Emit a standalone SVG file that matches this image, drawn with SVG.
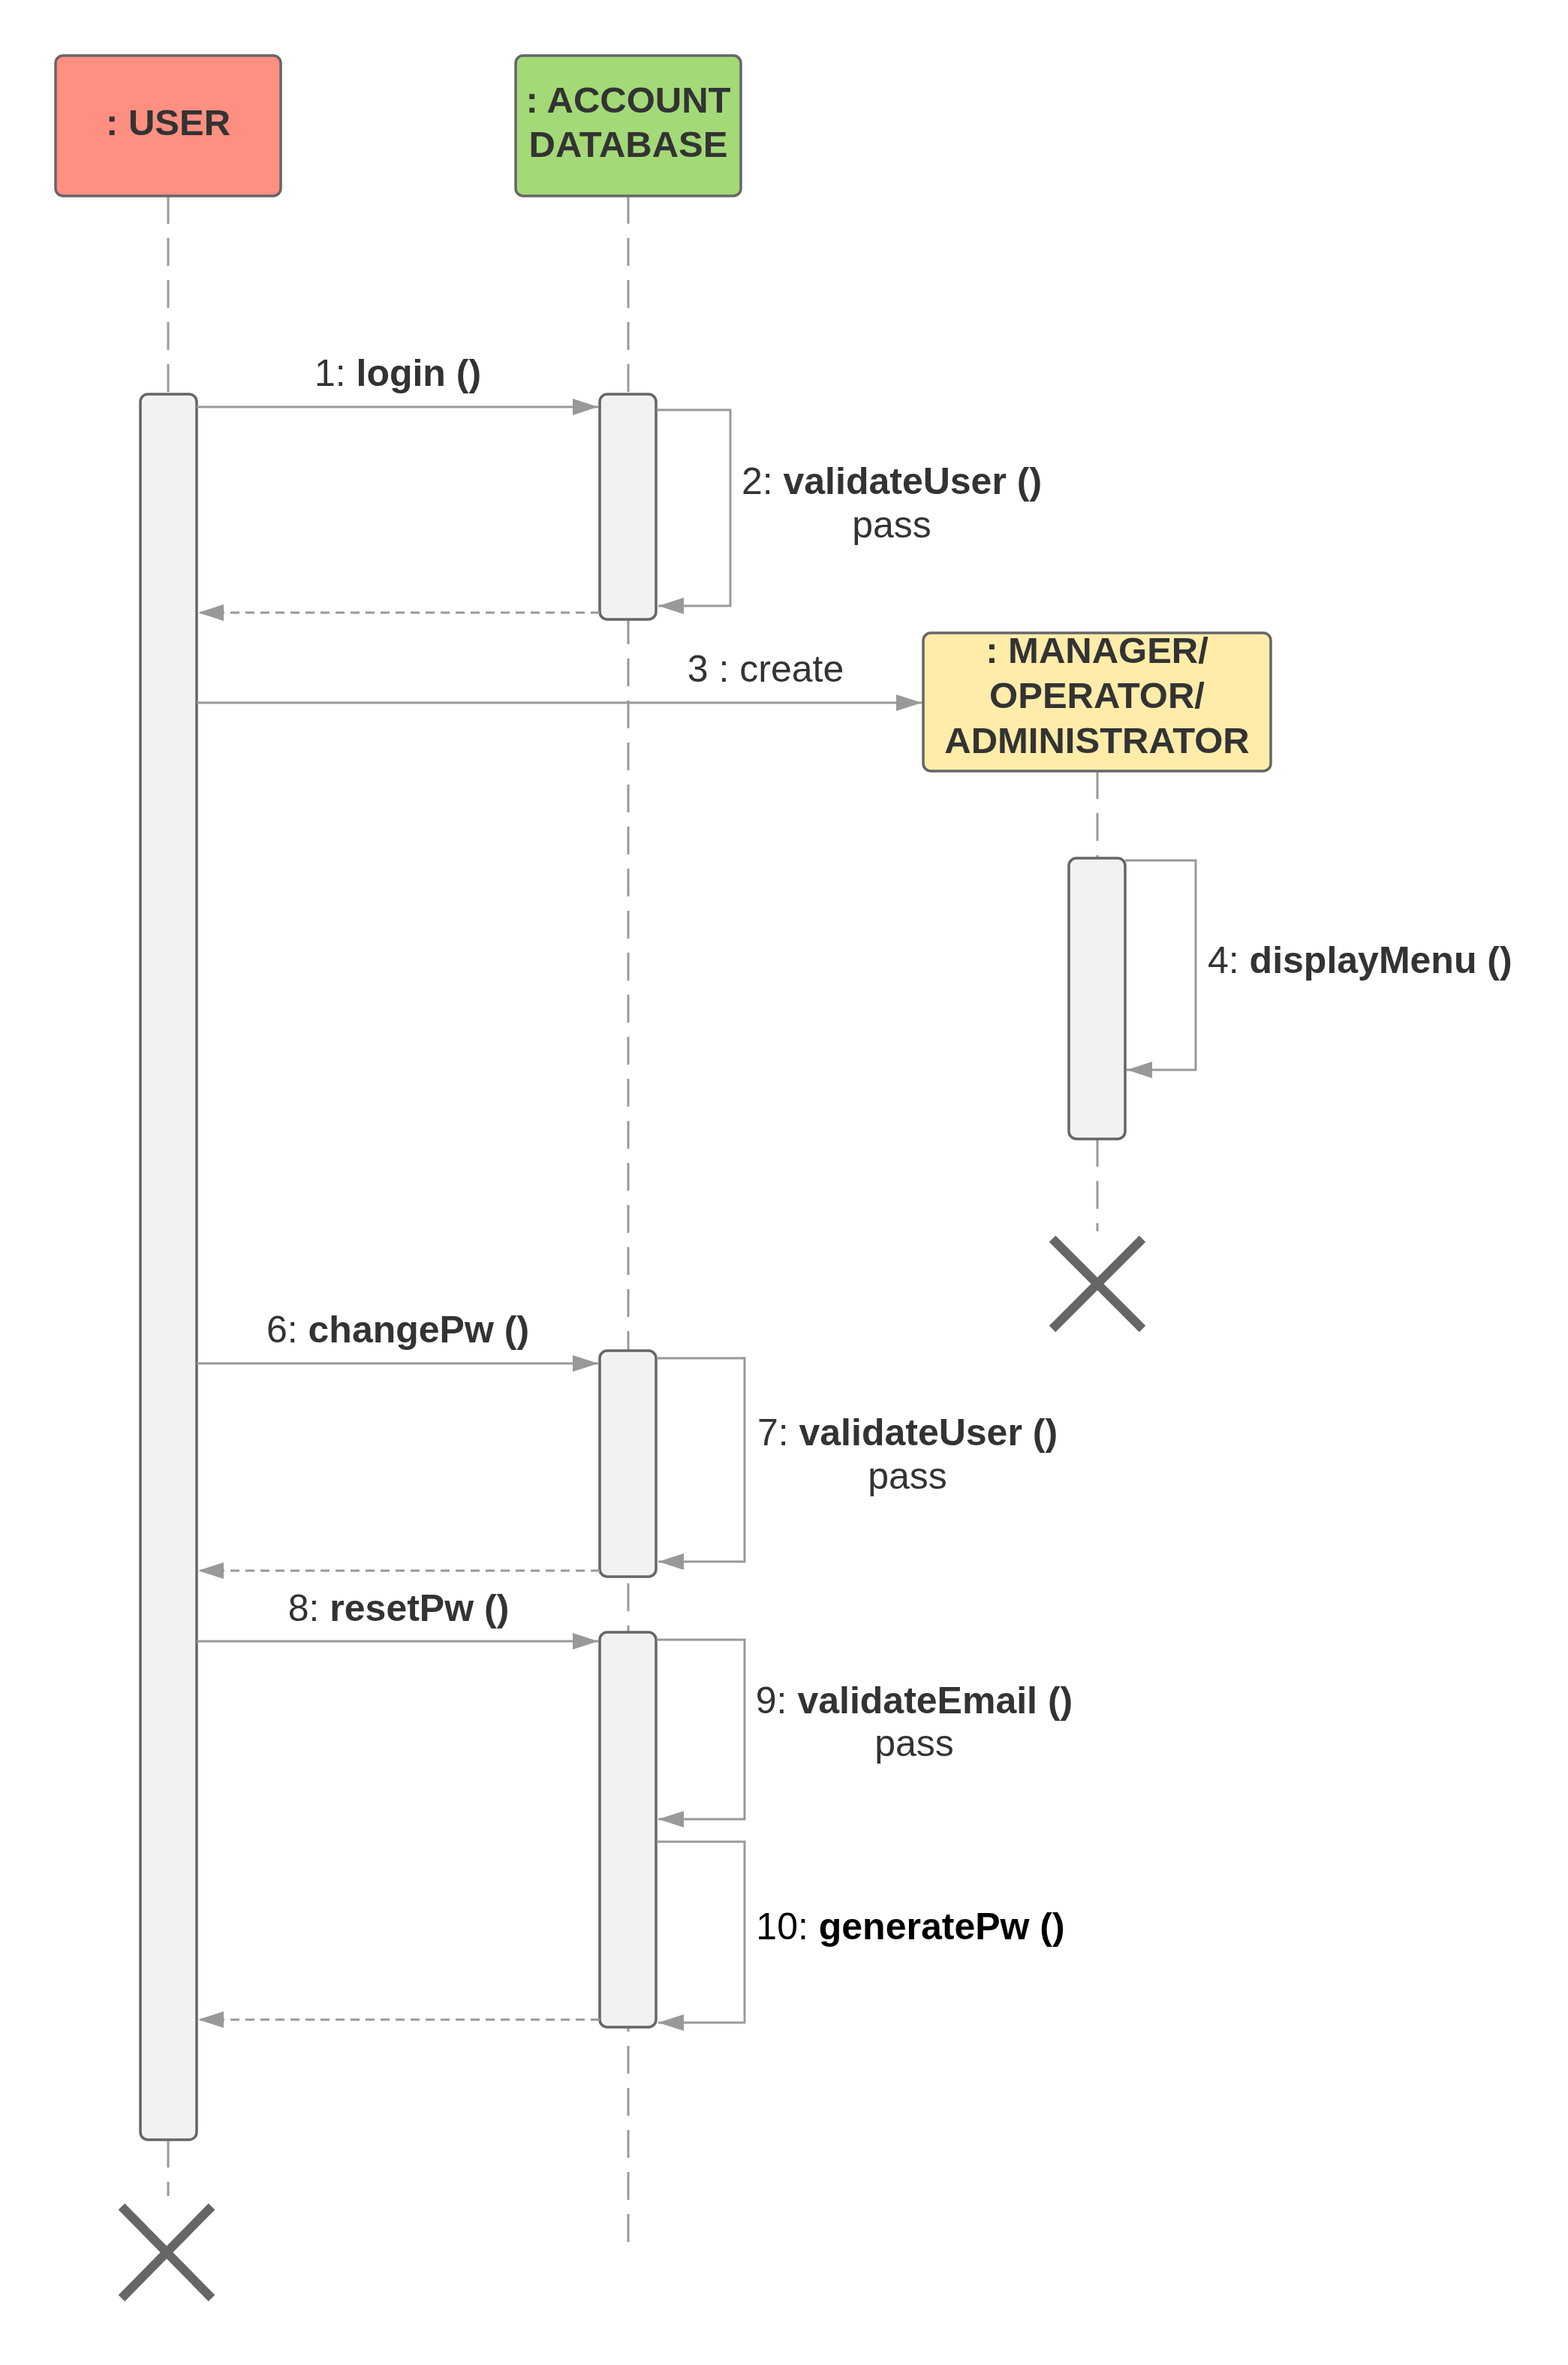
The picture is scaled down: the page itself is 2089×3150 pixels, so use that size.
<svg xmlns="http://www.w3.org/2000/svg" width="2089" height="3150" viewBox="0 0 2089 3150">
<defs>
<style>
.box{stroke:#666;stroke-width:3.5}
.act{fill:#f2f2f2;stroke:#666;stroke-width:3.5}
.life{stroke:#999;stroke-width:3;stroke-dasharray:37 19;fill:none}
.msg{stroke:#999;stroke-width:3;fill:none;marker-end:url(#arr)}
.ret{stroke:#999;stroke-width:3;fill:none;stroke-dasharray:12 8;marker-end:url(#arr)}
.hdr{font-family:"Liberation Sans",Arial,sans-serif;font-size:49px;font-weight:bold;fill:#333;text-anchor:middle}
.lbl{font-family:"Liberation Sans",Arial,sans-serif;font-size:50px;fill:#333}
.mid{text-anchor:middle}
.b{font-weight:bold}
.x{stroke:#666;stroke-width:12;fill:none}
</style>
<marker id="arr" markerUnits="userSpaceOnUse" viewBox="0 0 34 22" refX="34" refY="11" markerWidth="34" markerHeight="22" orient="auto"><path d="M0,0L34,11L0,22z" fill="#999"/></marker>
</defs>
<rect width="2089" height="3150" fill="#fff"/>
<g id="lifelines">
<path class="life" d="M224,261V525M224,2850V2925"/>
<path class="life" d="M837,261V3000"/>
<path class="life" d="M1462,1027V1143M1462,1517V1640"/>
</g>
<g id="user">
<rect class="box" x="74" y="74" width="300" height="187" rx="10" fill="#FF8F80"/>
<text class="hdr" x="224" y="180">: USER</text>
</g>
<g id="account-database">
<rect class="box" x="687" y="74" width="300" height="187" rx="10" fill="#A3D977"/>
<text class="hdr" x="837" y="150">: ACCOUNT</text>
<text class="hdr" x="837" y="209">DATABASE</text>
</g>
<g id="manager">
<rect class="box" x="1230" y="843" width="463" height="184" rx="10" fill="#FFECA9"/>
<text class="hdr" x="1461.5" y="883">: MANAGER/</text>
<text class="hdr" x="1461.5" y="943">OPERATOR/</text>
<text class="hdr" x="1461.5" y="1003">ADMINISTRATOR</text>
</g>
<g id="user-activation"><rect class="act" x="187" y="525" width="75" height="2325" rx="10"/></g>
<g id="db-activation-1"><rect class="act" x="799" y="525" width="75" height="300" rx="10"/></g>
<g id="db-activation-2"><rect class="act" x="799" y="1799" width="75" height="301" rx="10"/></g>
<g id="db-activation-3"><rect class="act" x="799" y="2174" width="75" height="526" rx="10"/></g>
<g id="manager-activation"><rect class="act" x="1424" y="1143" width="75" height="374" rx="10"/></g>
<g id="user-destroy"><path class="x" d="M162,2939L282,3061M282,2939L162,3061"/></g>
<g id="manager-destroy"><path class="x" d="M1402,1650L1522,1770M1522,1650L1402,1770"/></g>
<g id="connectors">
<path class="msg" d="M262,542H797"/>
<text class="lbl mid" x="530" y="514">1: <tspan class="b">login ()</tspan></text>
<path class="msg" d="M875,546H973V807H877"/>
<text class="lbl mid" x="1188" y="658">2: <tspan class="b">validateUser ()</tspan></text>
<text class="lbl mid" x="1188" y="716">pass</text>
<path class="ret" d="M799,816H264"/>
<path class="msg" d="M262,936H1228"/>
<text class="lbl mid" x="1020" y="908">3 : create</text>
<path class="msg" d="M1499,1146H1593V1425H1501"/>
<text class="lbl" x="1609" y="1296">4: <tspan class="b">displayMenu ()</tspan></text>
<path class="msg" d="M262,1816H797"/>
<text class="lbl mid" x="530" y="1788">6: <tspan class="b">changePw ()</tspan></text>
<path class="msg" d="M875,1809H992V2080H877"/>
<text class="lbl mid" x="1209" y="1925">7: <tspan class="b">validateUser ()</tspan></text>
<text class="lbl mid" x="1209" y="1983">pass</text>
<path class="ret" d="M799,2092H264"/>
<path class="msg" d="M262,2186H797"/>
<text class="lbl mid" x="531" y="2159">8: <tspan class="b">resetPw ()</tspan></text>
<path class="msg" d="M875,2184H992V2423H877"/>
<text class="lbl mid" x="1218" y="2282">9: <tspan class="b">validateEmail ()</tspan></text>
<text class="lbl mid" x="1218" y="2339">pass</text>
<path class="msg" d="M875,2453H992V2694H877"/>
<text class="lbl mid" x="1213" y="2583" style="fill:#000">10: <tspan class="b">generatePw ()</tspan></text>
<path class="ret" d="M799,2690H264"/>
</g>
</svg>
